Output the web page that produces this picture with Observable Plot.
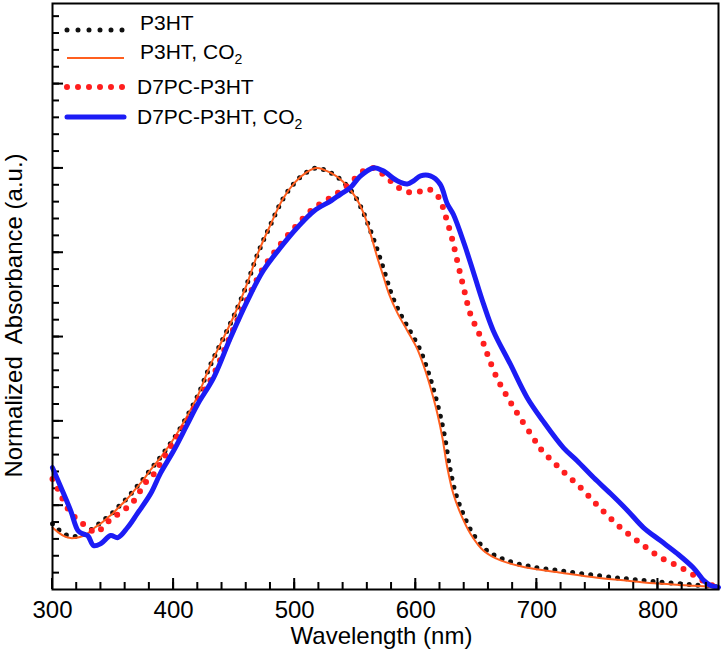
<!DOCTYPE html>
<html>
<head>
<meta charset="utf-8">
<script src="https://cdn.jsdelivr.net/npm/d3@7"></script>
<script src="https://cdn.jsdelivr.net/npm/@observablehq/plot@0.6"></script>
<style>
  html, body { margin: 0; padding: 0; background: white; }
  #chart svg { display: block; }
</style>
</head>
<body>
<div id="chart"></div>
<script>
// ---- data ----
const p3htWl  = [300,305,310,315,320,325,330,335,340,345,350,355,360,365,370,375,380,385,390,395,400,410,420,430,440,450,460,470,480,490,500,510,518,530,540,550,557,564,570,575,580,587,595,603,608,612,616,620,624,628,633,639,647,658,672,692,720,750,775,800,830,850];
const p3htAbs = [0.156,0.142,0.131,0.126,0.126,0.13,0.138,0.149,0.159,0.171,0.183,0.198,0.212,0.228,0.245,0.262,0.281,0.299,0.317,0.337,0.357,0.405,0.46,0.53,0.59,0.65,0.72,0.8,0.865,0.925,0.965,0.99,1.0,0.988,0.967,0.932,0.892,0.84,0.79,0.745,0.7,0.655,0.614,0.572,0.535,0.5,0.46,0.415,0.36,0.29,0.227,0.18,0.133,0.094,0.072,0.056,0.044,0.033,0.025,0.018,0.011,0.006];

const p3htCo2Wl  = [300,305,310,315,320,325,330,335,340,345,350,355,360,365,370,375,380,385,390,395,400,410,420,430,440,450,460,470,480,490,500,510,518,530,540,550,557,563,568,573,578,585,593,601,606,610,614,618,622,626,631,637,645,656,670,690,720,750,775,800,830,850];
const p3htCo2Abs = [0.147,0.135,0.126,0.122,0.123,0.127,0.135,0.147,0.157,0.169,0.181,0.196,0.21,0.226,0.243,0.26,0.28,0.298,0.316,0.336,0.357,0.405,0.46,0.53,0.59,0.65,0.72,0.8,0.865,0.925,0.965,0.99,1.0,0.988,0.967,0.932,0.892,0.84,0.79,0.745,0.7,0.655,0.614,0.572,0.535,0.5,0.46,0.415,0.36,0.29,0.227,0.18,0.133,0.092,0.069,0.053,0.04,0.028,0.021,0.014,0.009,0.005];

const d7pcWl  = [300,305,309,315,322,329,334,337,344,350,358,366,377,384,389,397,405,411,420,433,447,461,474,488,502,516,530,540,548,557,565,573,582,590,600,610,618,622,625,630,635,640,645,651,656,659,667,676,686,697,703,719,736,752,769,786,802,819,833,841,850];
const d7pcAbs = [0.262,0.235,0.211,0.182,0.163,0.147,0.137,0.135,0.156,0.17,0.187,0.206,0.254,0.275,0.298,0.336,0.372,0.397,0.447,0.51,0.603,0.69,0.762,0.818,0.865,0.905,0.93,0.95,0.97,0.993,1.0,0.985,0.962,0.946,0.941,0.95,0.934,0.91,0.882,0.832,0.77,0.71,0.654,0.615,0.583,0.559,0.502,0.455,0.408,0.36,0.334,0.287,0.242,0.194,0.147,0.109,0.076,0.052,0.028,0.014,0.005];

const d7pcCo2Wl  = [300,307,315,321,325,329,334,340,348,354,362,370,381,389,400,411,420,433,447,461,474,488,502,516,530,538,546,554,565,573,585,593,598,604,612,620,626,631,640,648,656,664,678,692,705,722,733,747,761,775,788,802,816,829,838,843,850];
const d7pcCo2Abs = [0.289,0.242,0.187,0.14,0.132,0.128,0.104,0.109,0.128,0.123,0.147,0.18,0.227,0.275,0.329,0.39,0.44,0.502,0.597,0.685,0.756,0.81,0.858,0.898,0.922,0.938,0.953,0.98,1.0,0.993,0.969,0.962,0.969,0.981,0.981,0.962,0.915,0.89,0.82,0.749,0.677,0.614,0.535,0.455,0.4,0.336,0.306,0.265,0.227,0.187,0.147,0.116,0.085,0.052,0.021,0.01,0.005];

const seriesNames = ["P3HT", "P3HT, CO2", "D7PC-P3HT", "D7PC-P3HT, CO2"];
const xMajorTicks = [300,400,500,600,700,800];
const xMinorTicks = d3.range(320, 850, 20);
const yMajorTicks = [0.2,0.4,0.6,0.8,1.0,1.2];
const yMinorTicks = d3.range(1, 35).map(i => i * 0.04);
const xLabel = "Wavelength (nm)";
const yLabel = "Normalized  Absorbance (a.u.)";

// ---- build tables ----
const toRows = (wl, ab) => wl.map((w, i) => ({wl: w, abs: ab[i]}));
const p3ht = toRows(p3htWl, p3htAbs);
const p3htCo2 = toRows(p3htCo2Wl, p3htCo2Abs);
const d7pc = toRows(d7pcWl, d7pcAbs);
const d7pcCo2 = toRows(d7pcCo2Wl, d7pcCo2Abs);

const colors = {p3ht: "#111111", p3htCo2: "#ff5f1f", d7pc: "#ff1e1e", d7pcCo2: "#1c1cf5"};

const W = 723, H = 660, ML = 52, MR = 5, MT = 3, MB = 71;
const frameW = W - ML - MR, frameH = H - MT - MB;
const minorLen = 7, majorLen = 11;

const chart = Plot.plot({
  width: W,
  height: H,
  marginLeft: ML,
  marginRight: MR,
  marginTop: MT,
  marginBottom: MB,
  style: {fontFamily: "'Liberation Sans', Arial, sans-serif", fontSize: "24px", background: "white", color: "black"},
  x: {domain: [300, 850], label: null},
  y: {domain: [0, 1.39], label: null},
  marks: [
    // inward y ticks
    Plot.ruleY(yMinorTicks, {y: d => d, insetRight: frameW - minorLen, stroke: "black", strokeWidth: 2}),
    Plot.ruleY(yMajorTicks, {y: d => d, insetRight: frameW - majorLen, stroke: "black", strokeWidth: 2}),
    Plot.axisX(xMajorTicks, {tickSize: 0, tickPadding: 11, fontSize: 24, label: null}),
    Plot.axisY([], {tickSize: 0, label: null}),
    Plot.lineY(p3ht, {x: "wl", y: "abs", stroke: colors.p3ht, strokeWidth: 5, strokeDasharray: "0 9", strokeLinecap: "round", curve: "catmull-rom"}),
    Plot.lineY(p3htCo2, {x: "wl", y: "abs", stroke: colors.p3htCo2, strokeWidth: 2, curve: "catmull-rom"}),
    Plot.lineY(d7pc, {x: "wl", y: "abs", stroke: colors.d7pc, strokeWidth: 6, strokeDasharray: "0 11", strokeLinecap: "round", curve: "catmull-rom"}),
    Plot.lineY(d7pcCo2, {x: "wl", y: "abs", stroke: colors.d7pcCo2, strokeWidth: 5, curve: "catmull-rom"}),
    Plot.frame({stroke: "black", strokeWidth: 2}),
    Plot.text([xLabel], {frameAnchor: "bottom", text: d => d, dy: 54, dx: -4, fontSize: 24, textAnchor: "middle"}),
    Plot.text([yLabel], {frameAnchor: "left", text: d => d, rotate: -90, dx: -38, dy: 19, fontSize: 24, textAnchor: "middle", lineAnchor: "middle"})
  ]
});
document.getElementById("chart").appendChild(chart);

const svg = d3.select(chart);

// ---- inward x ticks, placed with Plot's own x scale ----
const xs = chart.scale("x");
const axisY0 = H - MB;
const xTickG = svg.append("g").attr("stroke", "black").attr("stroke-width", 2);
[[xMinorTicks, minorLen], [xMajorTicks, majorLen]].forEach(([ticks, len]) => {
  ticks.forEach(v => {
    const px = xs.apply(v);
    xTickG.append("line")
      .attr("x1", px).attr("x2", px)
      .attr("y1", axisY0).attr("y2", axisY0 - len);
  });
});

// ---- legend inside plot (top-left) ----
const legend = svg.append("g")
  .attr("font-family", "'Liberation Sans', Arial, sans-serif")
  .attr("font-size", 21)
  .attr("text-anchor", "start");
const legendItems = [
  {name: seriesNames[0], stroke: colors.p3ht, width: 5, dash: "0 11", cap: "round", tx: 140},
  {name: seriesNames[1], stroke: colors.p3htCo2, width: 2, dash: null, cap: "butt", tx: 140},
  {name: seriesNames[2], stroke: colors.d7pc, width: 6, dash: "0 11", cap: "round", tx: 137},
  {name: seriesNames[3], stroke: colors.d7pcCo2, width: 5, dash: null, cap: "round", tx: 137}
];
const rowY = [30, 58, 87, 117];
const textY = [30, 59, 94, 124];
legendItems.forEach((it, i) => {
  legend.append("line")
    .attr("x1", 67).attr("x2", 124).attr("y1", rowY[i]).attr("y2", rowY[i])
    .attr("stroke", it.stroke).attr("stroke-width", it.width)
    .attr("stroke-linecap", it.cap)
    .attr("stroke-dasharray", it.dash);
  const t = legend.append("text").attr("x", it.tx).attr("y", textY[i]);
  const m = it.name.match(/^(.*CO)2$/);
  if (m) {
    t.append("tspan").text(m[1]);
    t.append("tspan").attr("font-size", 14).attr("dy", 5).text("2");
  } else {
    t.text(it.name);
  }
});
</script>
</body>
</html>
